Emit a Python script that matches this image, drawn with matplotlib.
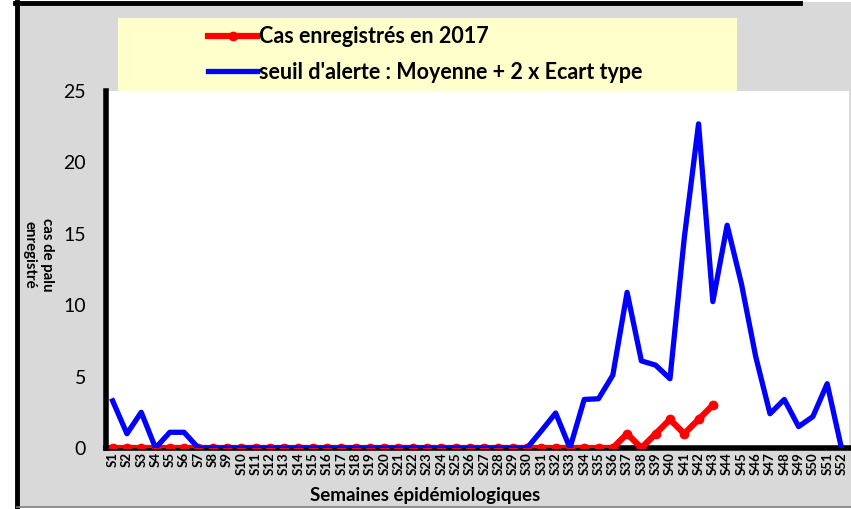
import numpy as np
import matplotlib
matplotlib.use('Agg')
import matplotlib.pyplot as plt
from matplotlib.patches import Rectangle
from matplotlib.lines import Line2D

plt.rcParams['font.family'] = ['Lato', 'DejaVu Sans']

weeks = ["S%d" % i for i in range(1, 53)]

# cas enregistres en 2017 (S1 -> S43)
cases2017 = [0] * 36 + [1, 0, 1, 2, 1, 2, 3]

# seuil d'alerte : moyenne + 2 x ecart type
threshold = [3.3, 1.0, 2.5, 0, 1.1, 1.1, 0,
             0, 0, 0, 0, 0, 0, 0, 0, 0, 0, 0, 0, 0, 0, 0, 0, 0, 0, 0, 0, 0, 0, 0,
             1.2, 2.45, 0, 3.4, 3.45, 5.1, 10.9, 6.1, 5.8, 4.85,
             14.7, 22.7, 10.25, 15.6, 11.5, 6.4, 2.4, 3.4, 1.5, 2.2, 4.5, 0]

W, H = 851, 509
fig = plt.figure(figsize=(W / 100, H / 100), dpi=100)
fig.patch.set_facecolor('white')

# grey chart area with its border
fig.patches.append(Rectangle((17 / W, 2 / H), (W - 17) / W, (H - 4) / H,
                             transform=fig.transFigure, facecolor='#d9d9d9',
                             edgecolor='none', zorder=-2))
fig.lines.append(Line2D([17 / W, 17 / W], [2 / H, 1 - 2 / H], transform=fig.transFigure,
                        color='black', lw=3.5, zorder=-1))
fig.lines.append(Line2D([15 / W, 800 / W], [1 - 2.5 / H, 1 - 2.5 / H], transform=fig.transFigure,
                        color='black', lw=3.5, zorder=-1))
fig.lines.append(Line2D([17 / W, 1], [2 / H, 2 / H], transform=fig.transFigure,
                        color='#7f7f7f', lw=1.2, zorder=-1))

# legend background
fig.patches.append(Rectangle((118 / W, 1 - 91 / H), (737 - 118) / W, (91 - 18) / H,
                             transform=fig.transFigure, facecolor='#ffffcc',
                             edgecolor='none', zorder=-1))

ax = fig.add_axes([105.5 / W, 1 - 448 / H, (848.6 - 105.5) / W, (448 - 91) / H])
ax.set_zorder(1)
ax.set_facecolor('white')

x = np.arange(1, 53)
ax.plot(x[:len(cases2017)], cases2017, '-', color='#ff0000', lw=4.5,
        marker='o', markersize=6, label="Cas enregistrés en 2017", zorder=3)
ax.plot(x, threshold, '-', color='#0000ff', lw=3.8,
        label="seuil d'alerte : Moyenne + 2 x Ecart type", zorder=4)

ax.set_xlim(0.5, 52.5)
ax.set_ylim(0, 25)
ax.set_yticks([0, 5, 10, 15, 20, 25])
ax.set_xticks(x)
ax.set_xticklabels(weeks, rotation=90, fontsize=9.5, fontweight='bold')
ax.tick_params(axis='y', length=0, labelsize=14, pad=14)
ax.tick_params(axis='x', length=0, pad=3)

for s in ['top', 'right']:
    ax.spines[s].set_visible(False)
ax.spines['left'].set_linewidth(4)
ax.spines['bottom'].set_linewidth(4)
for s in ['left', 'bottom']:
    ax.spines[s].set_clip_on(False)

fig.text(425 / W, 1 - 495 / H, "Semaines épidémiologiques", ha='center', va='center',
         fontsize=13.5, fontweight='bold')
fig.text(38 / W, 1 - 255 / H, "cas de palu\nenregistré", ha='center', va='center',
         rotation=270, fontsize=10.8, fontweight='bold', linespacing=1.35)

leg = ax.legend(loc='center left', bbox_to_anchor=(189 / W, 1 - 54.5 / H),
                bbox_transform=fig.transFigure, frameon=False, numpoints=1,
                handlelength=2.25, handletextpad=0.1, labelspacing=0.68,
                borderpad=0.4, prop={'size': 15.5, 'weight': 'bold'})
leg.set_zorder(5)

fig.savefig('out.png', dpi=100)
